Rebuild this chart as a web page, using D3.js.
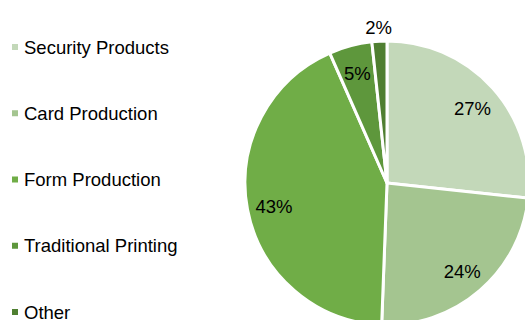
<!DOCTYPE html>
<html>
<head>
<meta charset="utf-8">
<script src="https://cdn.jsdelivr.net/npm/d3@7"></script>
<style>
  html, body { margin: 0; padding: 0; background: #fff; }
  svg { display: block; font-family: "Liberation Sans", Arial, sans-serif; }
</style>
</head>
<body>
<svg id="chart" width="525" height="320"></svg>
<script>
// Revenue share by business segment
const categories = ["Security Products", "Card Production", "Form Production", "Traditional Printing", "Other"];
const shares = [26.7, 23.9, 42.8, 4.9, 1.7];
const shareLabels = ["27%", "24%", "43%", "5%", "2%"];
const colors = ["#c3d8b9", "#a4c590", "#70ad47", "#5e973c", "#4f7f31"];

const svg = d3.select("#chart");
const cx = 387, cy = 183, radius = 142;

const pie = d3.pie().sort(null).value(d => d.value);
const data = categories.map((c, i) => ({ name: c, value: shares[i], label: shareLabels[i], color: colors[i] }));
const arcs = pie(data);

const arc = d3.arc().innerRadius(0).outerRadius(radius);
const labelArc = d3.arc().innerRadius(115).outerRadius(115);
const outerLabelArc = d3.arc().innerRadius(158).outerRadius(158);

const g = svg.append("g").attr("transform", `translate(${cx},${cy})`);

g.selectAll("path.slice")
  .data(arcs)
  .join("path")
  .attr("class", "slice")
  .attr("d", arc)
  .attr("fill", d => d.data.color)
  .attr("stroke", "#fff")
  .attr("stroke-width", 3)
  .attr("stroke-linejoin", "round");

g.selectAll("text.value")
  .data(arcs)
  .join("text")
  .attr("class", "value")
  .attr("transform", d => {
    const p = (d.data.value < 3 ? outerLabelArc : labelArc).centroid(d);
    return `translate(${p[0]},${p[1] + 2})`;
  })
  .attr("text-anchor", "middle")
  .attr("dominant-baseline", "central")
  .attr("font-size", 18.5)
  .attr("fill", "#000")
  .text(d => d.data.label);

// Legend
const legendY = d3.scalePoint().domain(categories).range([47, 312]);
const legend = svg.append("g");
const items = legend.selectAll("g.item")
  .data(data)
  .join("g")
  .attr("class", "item")
  .attr("transform", d => `translate(12,${legendY(d.name)})`);

items.append("rect")
  .attr("x", 0).attr("y", -3)
  .attr("width", 6).attr("height", 6)
  .attr("fill", d => d.color);

items.append("text")
  .attr("x", 12)
  .attr("dominant-baseline", "central")
  .attr("font-size", 18.5)
  .attr("fill", "#000")
  .text(d => d.name);
</script>
</body>
</html>
